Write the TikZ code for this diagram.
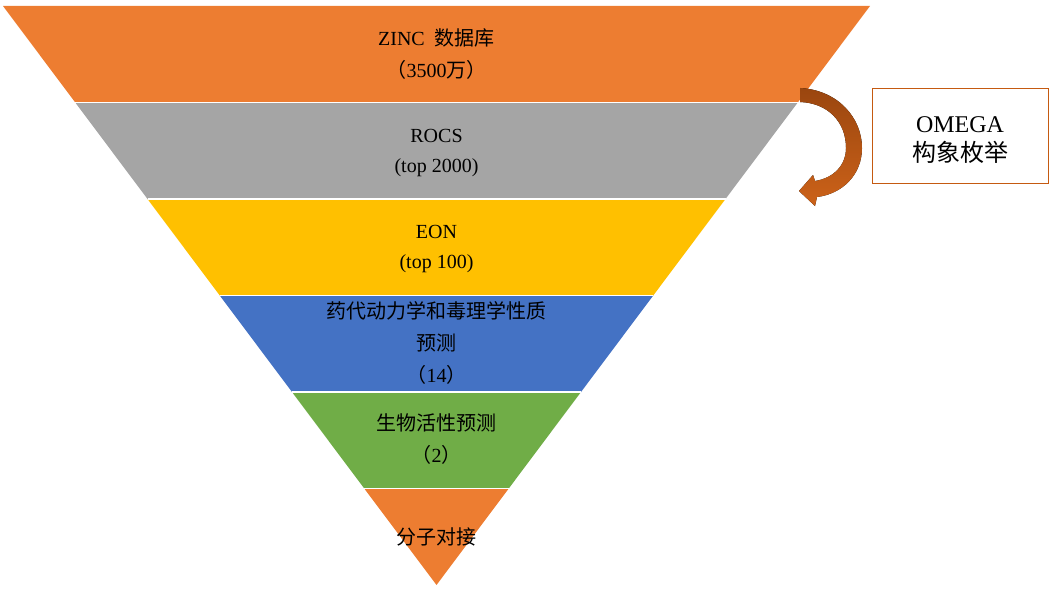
\documentclass[tikz,border=0pt]{standalone}
\usepackage{fontspec}
\setmainfont{Liberation Serif}
\newfontfamily\cjk{Noto Sans CJK SC}
\usepackage{tikz}
\usepackage{xcolor}
\usetikzlibrary{calc, positioning}

\definecolor{zincc}{HTML}{ED7D31}
\definecolor{rocsc}{HTML}{A5A5A5}
\definecolor{eonc}{HTML}{FFC000}
\definecolor{admetc}{HTML}{4472C4}
\definecolor{bioc}{HTML}{70AD47}
\definecolor{dockc}{HTML}{ED7D31}
\definecolor{boxc}{HTML}{C55A11}
\definecolor{arrtop}{HTML}{9A460F}
\definecolor{arrbot}{HTML}{CC6219}
\newcommand{\zh}[1]{{\cjk #1}}

\begin{document}
\begin{tikzpicture}[x=1pt, y=-1pt,
  every node/.style={font=\fontsize{20}{32}\selectfont, align=center, inner sep=0pt},
  latin/.style={font=\fontsize{20}{30}\selectfont},
  sep/.style={white, line width=1.6pt}]
  \useasboundingbox (0,0) rectangle (1057,591);
  % Funnel corners
  \coordinate (L0) at (3,6);        \coordinate (R0) at (870,6);
  \coordinate (L1) at (75.25,102.5); \coordinate (R1) at (797.75,102.5);
  \coordinate (L2) at (147.5,199);   \coordinate (R2) at (725.5,199);
  \coordinate (L3) at (219.75,295.5);\coordinate (R3) at (653.25,295.5);
  \coordinate (L4) at (292,392);     \coordinate (R4) at (581,392);
  \coordinate (L5) at (364.25,488.5);\coordinate (R5) at (508.75,488.5);
  \coordinate (tip) at (436.5,585);
  % Bands
  \fill[zincc] (L0) -- (R0) -- (R1) -- (L1) -- cycle;
  \fill[rocsc] (L1) -- (R1) -- (R2) -- (L2) -- cycle;
  \fill[eonc] (L2) -- (R2) -- (R3) -- (L3) -- cycle;
  \fill[admetc] (L3) -- (R3) -- (R4) -- (L4) -- cycle;
  \fill[bioc] (L4) -- (R4) -- (R5) -- (L5) -- cycle;
  \fill[dockc] (L5) -- (R5) -- (tip) -- cycle;
  \draw[sep] (L1) -- (R1);
  \draw[sep] (L2) -- (R2);
  \draw[sep] (L3) -- (R3);
  \draw[sep] (L4) -- (R4);
  \draw[sep] (L5) -- (R5);
  % Labels
  \node (zinc) at (436.5,54) {ZINC\ \ \zh{数据库}\\\zh{（}3500\zh{万）}};
  \node[latin] (rocs) at (436.5,153.5) {ROCS\\(top 2000)};
  \node[latin] (eon) at (436.5,249.5) {EON\\(top 100)};
  \node (admet) at (436.5,343) {\zh{药代动力学和毒理学性质}\\\zh{预测}\\\zh{（}14\zh{）}};
  \node (bio) at (436.5,439) {\zh{生物活性预测}\\\zh{（}2\zh{）}};
  \node (dock) at (436.5,537) {\zh{分子对接}};
  % OMEGA box
  \node[draw=boxc, line width=0.9pt, minimum width=176, minimum height=95] (omegabox) at (960,135.5) {};
  \node[font=\fontsize{24}{29}\selectfont] (omega) at (960,140.5) {OMEGA\\\zh{构象枚举}};
  % Curved arrow
  \fill[top color=arrtop, bottom color=arrbot]
    (800,88) .. controls (838,90) and (862,118) .. (862,148)
    .. controls (862,175) and (842,194) .. (817,197)
    -- (815,206) -- (799,191) -- (813,175) -- (815,181)
    .. controls (834,178) and (846,165) .. (846,148)
    .. controls (846,122) and (828,103) .. (800,102) -- cycle;
\end{tikzpicture}
\end{document}
